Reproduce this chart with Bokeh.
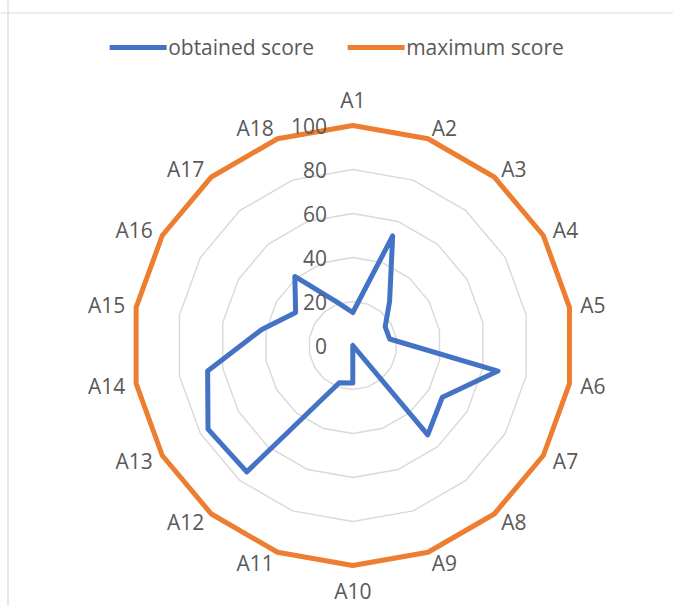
import numpy as np
from bokeh.plotting import figure
from bokeh.models import Legend, LegendItem, Span
from bokeh.core.properties import value
from bokeh.embed import file_html
from bokeh.resources import INLINE

categories = ["A1", "A2", "A3", "A4", "A5", "A6", "A7", "A8", "A9",
              "A10", "A11", "A12", "A13", "A14", "A15", "A16", "A17", "A18"]
obtained_score = [15, 53, 26, 17, 17, 67, 47, 53, 0, 17, 18, 75, 76, 67, 42, 30, 41, 21]
maximum_score = [100, 100, 100, 100, 100, 100, 100, 100, 100,
                 100, 100, 100, 100, 100, 100, 100, 100, 100]
grid_levels = [20, 40, 60, 80]
tick_values = [0, 20, 40, 60, 80, 100]
tick_labels = ["0", "20", "40", "60", "80", "100"]

FONT = "Open Sans"
TXT = "#595959"

n = len(categories)
ang = np.arange(n) * 2 * np.pi / n
sx, sy = np.sin(ang), np.cos(ang)


def ring(vals):
    v = np.asarray(vals, dtype=float)
    x = v * sx
    y = v * sy
    return np.append(x, x[0]), np.append(y, y[0])


PX = 2.2              # pixels per data unit
W, H = 673, 606
cx_px, cy_px = 352.3, 345.0
x_range = (-cx_px / PX, (W - cx_px) / PX)
y_range = (-(H - cy_px) / PX, cy_px / PX)

p = figure(width=W, height=H, x_range=x_range, y_range=y_range,
           output_backend="svg", toolbar_location=None, min_border=0,
           x_axis_location=None, y_axis_location=None)
p.grid.visible = False
p.outline_line_color = None
p.background_fill_color = "white"
p.border_fill_color = "white"

# chart-area border (top and left visible)
p.add_layout(Span(location=y_range[1] - 12.5 / PX, dimension="width",
                  line_color="#d9d9d9", line_width=1.2))
p.add_layout(Span(location=x_range[0] + 7.5 / PX, dimension="height",
                  line_color="#d9d9d9", line_width=1.2))

for lv in grid_levels:
    gx, gy = ring([lv] * n)
    p.line(gx, gy, line_color="#d9d9d9", line_width=1.4)

ox, oy = ring(maximum_score)
r_max = p.line(ox, oy, line_color="#ED7D31", line_width=5,
               line_join="round", line_cap="round")
bx, by = ring(obtained_score)
r_obt = p.line(bx, by, line_color="#4472C4", line_width=5,
               line_join="round", line_cap="round")

# category labels
rmax = max(maximum_score)
groups = {"left": ([], [], []), "right": ([], [], []), "center": ([], [], [])}
for i, c in enumerate(categories):
    vx, vy = rmax * sx[i], rmax * sy[i]
    if abs(sx[i]) < 0.05:
        off = 11.4 if sy[i] > 0 else 11.4
        g = groups["center"]
        g[0].append(vx)
        g[1].append(vy + off * np.sign(sy[i]))
    else:
        gap = 5.0
        g = groups["left" if sx[i] > 0 else "right"]
        g[0].append(vx + gap * sx[i])
        g[1].append(vy + gap * sy[i])
    g[2].append(c)
for align, (gx, gy, gt) in groups.items():
    p.text(x=gx, y=gy, text=gt, text_align=align, text_baseline="middle",
           text_font=value(FONT), text_font_size="21px", text_color=TXT)

# radial value labels
p.text(x=[-11.7] * len(tick_values), y=tick_values, text=tick_labels,
       text_align="right", text_baseline="middle",
       text_font=value(FONT), text_font_size="21px", text_color=TXT)

legend = Legend(items=[LegendItem(label="obtained score", renderers=[r_obt]),
                       LegendItem(label="maximum score", renderers=[r_max])],
                orientation="horizontal", location="top_center",
                glyph_width=57, glyph_height=24, label_height=24,
                label_standoff=2, spacing=33, padding=5, margin=33,
                border_line_color=None, background_fill_alpha=0,
                label_text_font=FONT, label_text_font_size="21px",
                label_text_color=TXT)
p.add_layout(legend)

open("out.html", "w").write(file_html(p, INLINE))
